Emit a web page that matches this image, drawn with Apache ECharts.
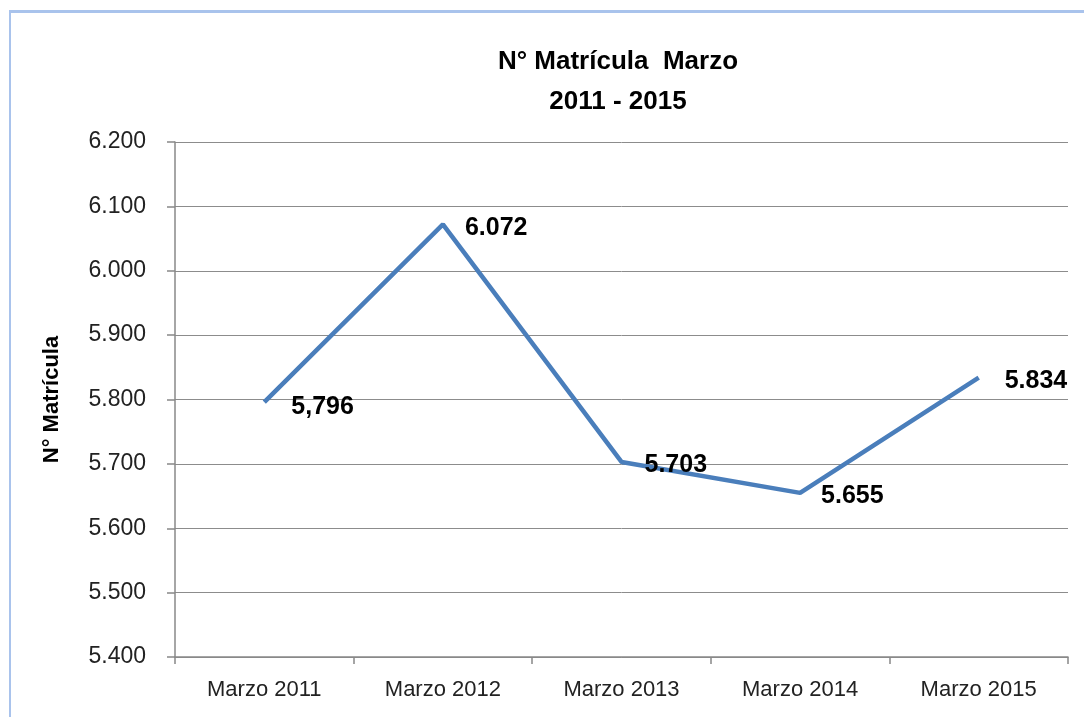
<!DOCTYPE html>
<html>
<head>
<meta charset="utf-8">
<script src="https://cdn.jsdelivr.net/npm/echarts@6/dist/echarts.min.js"></script>
<style>
  html, body { margin: 0; padding: 0; background: #fff; }
  #frame {
    position: absolute; left: 9px; top: 10px; width: 1090px; height: 720px;
    border-left: 2px solid #a9c3ec; border-top: 3px solid #a9c3ec;
  }
  #chart { position: absolute; left: 0; top: 0; width: 1084px; height: 717px; }
</style>
</head>
<body>
<div id="frame"></div>
<div id="chart"></div>
<script>
// datos
const categories = ["Marzo 2011", "Marzo 2012", "Marzo 2013", "Marzo 2014", "Marzo 2015"];
const matricula = [5796, 6072, 5703, 5655, 5834];
const pointLabels = ["5,796", "6.072", "5.703", "5.655", "5.834"];
const labelShift = [[20, 5], [15, 4], [16, 3], [14, 3], [19, 3]];

const font = "'Liberation Sans', Arial, sans-serif";
const fmtMiles = v => {
  const s = String(Math.round(v));
  return s.slice(0, -3) + "." + s.slice(-3);
};

const chart = echarts.init(document.getElementById("chart"));
chart.setOption({
  animation: false,
  title: {
    text: "N° Matrícula  Marzo\n2011 - 2015",
    left: 613,
    top: 37,
    textAlign: "center",
    textStyle: { fontFamily: font, fontWeight: "bold", fontSize: 26, lineHeight: 40, color: "#000" }
  },
  grid: { left: 175, right: 16, top: 142, bottom: 60 },
  xAxis: {
    type: "category",
    data: categories,
    boundaryGap: true,
    axisLine: { lineStyle: { color: "#888", width: 1.5 } },
    axisTick: { show: true, length: 7, lineStyle: { color: "#888", width: 1.5 } },
    axisLabel: { margin: 22, fontFamily: font, fontSize: 22, color: "#222" }
  },
  yAxis: {
    type: "value",
    min: 5400,
    max: 6200,
    interval: 100,
    name: "N° Matrícula",
    nameLocation: "middle",
    nameGap: 112,
    nameTextStyle: { fontFamily: font, fontWeight: "bold", fontSize: 22, color: "#000" },
    axisLine: { show: true, lineStyle: { color: "#888", width: 1.5 } },
    axisTick: { show: true, length: 8, lineStyle: { color: "#888", width: 1.5 } },
    splitLine: { lineStyle: { color: "#8c8c8c", width: 1 } },
    axisLabel: { margin: 29, fontFamily: font, fontSize: 23, color: "#222", formatter: fmtMiles }
  },
  series: [{
    type: "line",
    data: matricula,
    symbol: "circle",
    symbolSize: 2,
    showSymbol: true,
    itemStyle: { color: "rgba(0,0,0,0)" },
    lineStyle: { color: "#4a7ebb", width: 4.5 },
    labelLayout: p => ({
      hideOverlap: false,
      dx: labelShift[p.dataIndex][0],
      dy: labelShift[p.dataIndex][1]
    }),
    label: {
      show: true,
      position: "right",
      distance: 6,
      formatter: p => pointLabels[p.dataIndex],
      fontFamily: font,
      fontWeight: "bold",
      fontSize: 25,
      color: "#000"
    }
  }]
});
</script>
</body>
</html>
